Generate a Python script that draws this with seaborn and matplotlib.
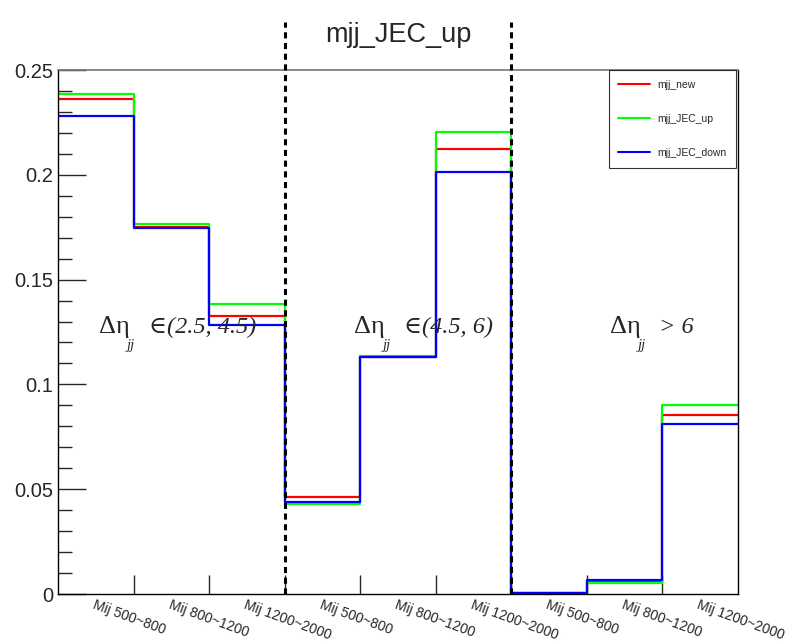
import numpy as np
import pandas as pd
import seaborn as sns
import matplotlib
matplotlib.use("Agg")
import matplotlib.pyplot as plt
from matplotlib.lines import Line2D

# Mjj bins in three delta-eta_jj regions
bin_labels = ["Mij 500~800", "Mij 800~1200", "Mij 1200~2000"] * 3
mjj_new = [0.2362, 0.1750, 0.1328, 0.0461, 0.1130, 0.2123, 0.0003, 0.0059, 0.0856]
mjj_JEC_up = [0.2385, 0.1765, 0.1384, 0.0431, 0.1135, 0.2204, 0.0003, 0.0052, 0.0903]
mjj_JEC_down = [0.2282, 0.1745, 0.1282, 0.0437, 0.1132, 0.2013, 0.0003, 0.0067, 0.0811]
series_names = ["mjj_new", "mjj_JEC_up", "mjj_JEC_down"]
series_colors = ["#ff0000", "#00ff00", "#0000ff"]
region_texts = ["\u2208(2.5, 4.5)", "\u2208(4.5, 6)", "> 6"]

sns.set_theme(style="ticks")
plt.rcParams["font.family"] = ["Liberation Sans", "DejaVu Sans"]
serif = ["Liberation Serif", "DejaVu Serif"]

n = len(bin_labels)
edges = [float(e) for e in range(n + 1)]
centers = np.arange(n) + 0.5

frames = []
for name, vals in zip(series_names, [mjj_new, mjj_JEC_up, mjj_JEC_down]):
    frames.append(pd.DataFrame({"x": centers, "w": vals, "series": name}))
df = pd.concat(frames, ignore_index=True)

fig = plt.figure(figsize=(7.9, 6.43), dpi=100)
ax = fig.add_axes([58 / 790, 49 / 643, 680 / 790, 524 / 643])

for name, color in zip(series_names, series_colors):
    sns.histplot(data=df[df.series == name], x="x", weights="w", bins=edges,
                 element="step", fill=False, color=color, linewidth=1.6, ax=ax)

ax.set_xlim(0, n)
ax.set_ylim(0, 0.25)
ax.set_xlabel("")
ax.set_ylabel("")

# y axis: major every 0.05, minor every 0.01, ticks pointing inward
ax.set_yticks([0, 0.05, 0.1, 0.15, 0.2, 0.25])
ax.set_yticklabels(["0", "0.05", "0.1", "0.15", "0.2", "0.25"], fontsize=14.5)
ax.set_yticks(np.arange(0, 0.2501, 0.01), minor=True)
ax.tick_params(axis="y", which="major", direction="in", length=20, width=1, pad=3.5)
ax.tick_params(axis="y", which="minor", direction="in", length=10, width=1)

# x axis: ticks at bin edges, labels at bin centres
ax.set_xticks(edges[1:-1])
ax.set_xticklabels([])
ax.tick_params(axis="x", which="major", direction="in", length=14, width=1)
for c, lab in zip(centers, bin_labels):
    ax.text(c, -0.002, lab, rotation=-20, rotation_mode="anchor",
            ha="left", va="top", fontsize=10, transform=ax.transData,
            clip_on=False)

for side in ["left", "bottom", "right"]:
    ax.spines[side].set_color("black")
    ax.spines[side].set_linewidth(1)
ax.spines["top"].set_color("#777777")
ax.spines["top"].set_linewidth(1.2)

# region separators
for xb in [3, 6]:
    ax.plot([xb, xb], [0, 0.273], color="black", linestyle=(0, (2, 1.5)),
            linewidth=2.2, clip_on=False, zorder=5)

# region labels: delta-eta, jj subscript, range
y_base = 0.1245
for xr, txt in zip([0.54, 3.92, 7.30], region_texts):
    ax.text(xr, y_base, "\u0394\u03b7", fontsize=19, ha="left",
            va="baseline", family=serif)
    ax.text(xr + 0.37, y_base - 0.0075, "jj", fontsize=10.5, ha="left",
            va="baseline", family=serif, fontstyle="italic")
    ax.text(xr + 0.66, y_base, txt, fontsize=17.5, ha="left", va="baseline",
            family=serif, fontstyle="italic")

ax.set_title("mjj_JEC_up", fontsize=19.5, pad=20)

handles = [Line2D([0], [0], color=c, linewidth=1.5) for c in series_colors]
leg = ax.legend(handles, series_names, loc="upper right",
                bbox_to_anchor=(736 / 790, 573 / 643), bbox_transform=fig.transFigure,
                fontsize=7.5, frameon=True, fancybox=False, edgecolor="black",
                handlelength=3.0, labelspacing=2.3, borderpad=0.95,
                handletextpad=0.7, borderaxespad=0)
leg.get_frame().set_linewidth(0.8)
leg.set_zorder(10)

fig.savefig("out.png", dpi=100)
